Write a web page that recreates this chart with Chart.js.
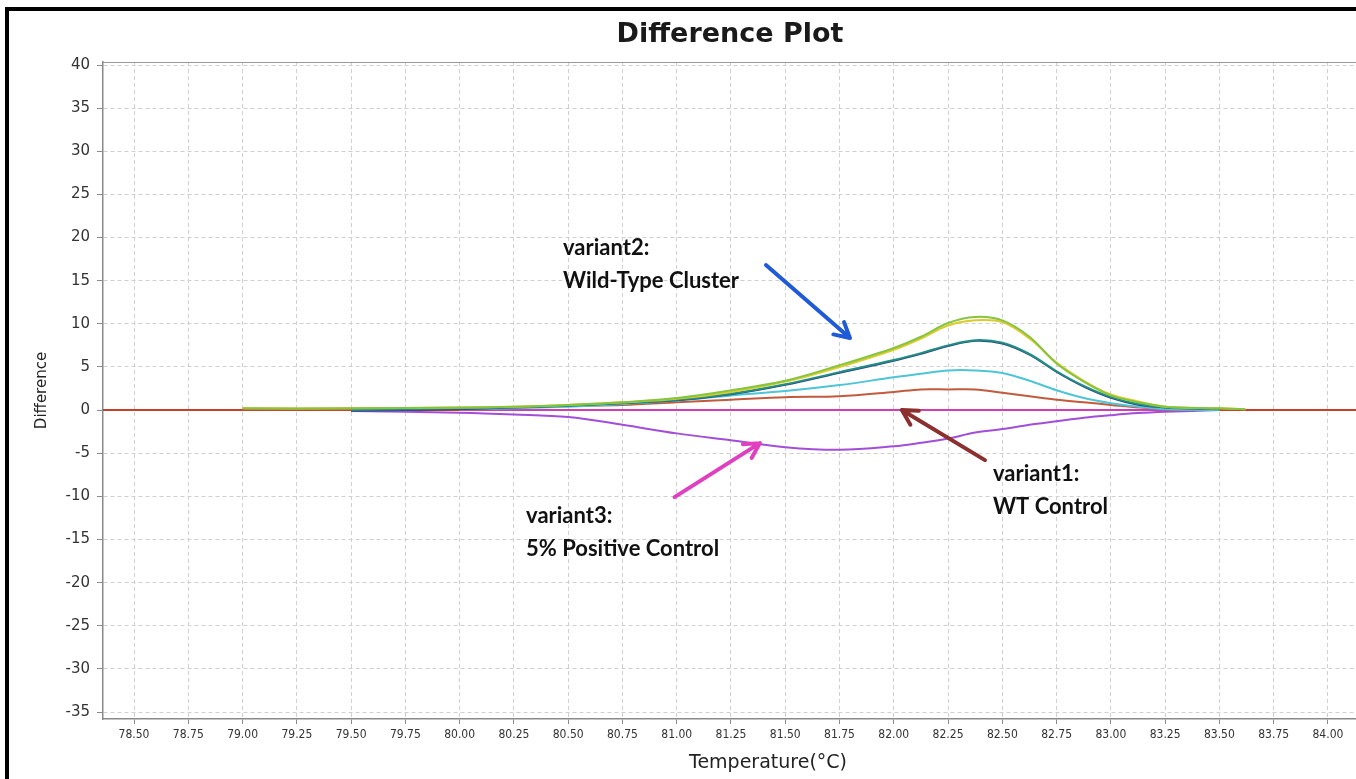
<!DOCTYPE html>
<html>
<head>
<meta charset="utf-8">
<script src="https://cdn.jsdelivr.net/npm/chart.js@4.4.1/dist/chart.umd.min.js"></script>
<style>
  html, body { margin: 0; padding: 0; background: #fff; overflow: hidden; }
  #wrap { position: relative; width: 1356px; height: 779px; overflow: hidden; }
  #frame { position: absolute; left: 5px; top: 7px; width: 1440px; height: 820px; border: 4px solid #000; }
  #diffChart { position: absolute; left: 0; top: 0; }
</style>
</head>
<body>
<div id="wrap">
  <div id="frame"></div>
  <canvas id="diffChart" width="1460" height="779"></canvas>
</div>
<script>
// temperatures shared by the melt curves
const temps = [79.0, 79.5, 80.0, 80.25, 80.5, 80.75, 81.0, 81.25, 81.5, 81.75, 82.0, 82.125,
               82.25, 82.375, 82.5, 82.625, 82.75, 82.875, 83.0, 83.125, 83.25, 83.5, 83.62];

const green  = [0.2, 0.2, 0.3, 0.4, 0.6, 0.9, 1.4, 2.3, 3.4, 5.2, 7.2, 8.5, 10.1, 10.8, 10.4, 8.5, 5.4, 3.3, 1.7, 0.9, 0.4, 0.2, 0.1];
const yellow = [0.2, 0.2, 0.3, 0.4, 0.6, 0.9, 1.3, 2.1, 3.3, 5.0, 7.0, 8.3, 9.8, 10.4, 10.2, 8.3, 5.5, 3.4, 1.8, 1.0, 0.4, 0.2, 0.1];
const teal   = [null, 0.0, 0.2, 0.3, 0.5, 0.8, 1.2, 1.9, 3.0, 4.4, 5.8, 6.6, 7.5, 8.1, 7.8, 6.5, 4.5, 2.8, 1.5, 0.7, 0.3, 0.1, null];
const navy   = [null, -0.1, 0.1, 0.3, 0.5, 0.8, 1.1, 1.8, 2.9, 4.3, 5.7, 6.5, 7.4, 8.0, 7.7, 6.4, 4.4, 2.7, 1.4, 0.6, 0.3, 0.1, null];
const cyan   = [null, null, 0.1, 0.2, 0.4, 0.7, 1.1, 1.7, 2.2, 2.9, 3.8, 4.2, 4.6, 4.6, 4.3, 3.4, 2.3, 1.4, 0.8, 0.4, 0.1, 0.0, null];
const brown  = [0.1, 0.1, 0.2, 0.3, 0.5, 0.6, 0.9, 1.2, 1.5, 1.6, 2.1, 2.4, 2.4, 2.4, 2.0, 1.6, 1.2, 0.9, 0.6, 0.3, 0.1, 0.0, null];
const purple = [null, -0.1, -0.3, -0.5, -0.8, -1.7, -2.7, -3.5, -4.3, -4.6, -4.2, -3.8, -3.3, -2.6, -2.2, -1.7, -1.3, -0.9, -0.6, -0.35, -0.2, 0.0, null];
const magenta = [null, null, 0, 0, 0, 0, 0, 0, 0, 0, 0, 0, 0, 0, 0, 0, 0, 0, 0, 0, 0, null, null];

// WT control baseline runs across the whole plot
const baseTemps = [78.3, 84.6];
const baseVals = [0, 0];

const xTicks = [78.5, 78.75, 79.0, 79.25, 79.5, 79.75, 80.0, 80.25, 80.5, 80.75, 81.0, 81.25,
                81.5, 81.75, 82.0, 82.25, 82.5, 82.75, 83.0, 83.25, 83.5, 83.75, 84.0];
const yTicks = [-35, -30, -25, -20, -15, -10, -5, 0, 5, 10, 15, 20, 25, 30, 35, 40];

const notes = [
    { lines: ['variant2:', 'Wild-Type Cluster'], x: 80.476, y: 18.75 },
    { lines: ['variant1:', 'WT Control'], x: 82.457, y: -7.45 },
    { lines: ['variant3:', '5% Positive Control'], x: 80.306, y: -12.3 }
];
const arrows = [
    { from: [81.411, 16.81], to: [81.798, 8.35], color: '#1f5bd8' },
    { from: [82.42, -5.8], to: [82.037, 0.0], color: '#8b2f2f' },
    { from: [80.99, -10.09], to: [81.383, -3.83], color: '#e03fbf' }
];

function pts(xs, ys) {
    return xs.map((x, i) => ({ x: x, y: ys[i] }));
}

function line(label, ys, color, width) {
    return {
        label: label,
        data: pts(temps, ys),
        borderColor: color,
        borderWidth: width || 2,
        pointRadius: 0,
        tension: 0.35,
        spanGaps: false
    };
}

const frameAndNotes = {
    id: 'frameAndNotes',
    afterDatasetsDraw(chart) {
        const ctx = chart.ctx;
        const xs = chart.scales.x, ys = chart.scales.y;
        const area = chart.chartArea;
        ctx.save();
        // top edge of the plot box
        ctx.strokeStyle = '#9a9a9a';
        ctx.lineWidth = 1;
        ctx.beginPath();
        ctx.moveTo(area.left, area.top + 0.5);
        ctx.lineTo(area.right, area.top + 0.5);
        ctx.stroke();

        arrows.forEach(a => {
            const x1 = xs.getPixelForValue(a.from[0]), y1 = ys.getPixelForValue(a.from[1]);
            const x2 = xs.getPixelForValue(a.to[0]), y2 = ys.getPixelForValue(a.to[1]);
            const ang = Math.atan2(y2 - y1, x2 - x1);
            ctx.strokeStyle = a.color;
            ctx.lineWidth = 4;
            ctx.lineCap = 'round';
            ctx.lineJoin = 'round';
            ctx.beginPath();
            ctx.moveTo(x1, y1);
            ctx.lineTo(x2, y2);
            ctx.moveTo(x2 - 17 * Math.cos(ang - 0.5), y2 - 17 * Math.sin(ang - 0.5));
            ctx.lineTo(x2, y2);
            ctx.lineTo(x2 - 17 * Math.cos(ang + 0.5), y2 - 17 * Math.sin(ang + 0.5));
            ctx.stroke();
        });

        ctx.fillStyle = '#111';
        ctx.font = 'bold 22px Lato';
        ctx.textAlign = 'left';
        ctx.textBaseline = 'middle';
        notes.forEach(n => {
            const x = xs.getPixelForValue(n.x), y = ys.getPixelForValue(n.y);
            n.lines.forEach((t, i) => ctx.fillText(t, x, y + i * 33));
        });
        ctx.restore();
    }
};

const ctx = document.getElementById('diffChart').getContext('2d');
const chart = new Chart(ctx, {
    type: 'line',
    data: {
        datasets: [
            line('green', green, '#86c440'),
            line('yellow', yellow, '#dccb2a'),
            line('teal', teal, '#1f8f80'),
            line('navy', navy, '#2b3f8f', 1.5),
            line('cyan', cyan, '#4ec4d6'),
            line('brown', brown, '#c25a3c'),
            line('purple', purple, '#a24ed6'),
            line('magenta', magenta, '#d23db4'),
            {
                label: 'baseline',
                data: pts(baseTemps, baseVals),
                borderColor: '#c4402a',
                borderWidth: 2,
                pointRadius: 0
            }
        ]
    },
    options: {
        responsive: false,
        animation: false,
        layout: { padding: 0 },
        plugins: {
            legend: { display: false },
            tooltip: { enabled: false },
            title: {
                display: true,
                text: 'Difference Plot',
                color: '#1a1a1a',
                font: { family: 'DejaVu Sans', size: 27, weight: 'bold', lineHeight: 1.2 },
                padding: { top: 19, bottom: 10.6 }
            }
        },
        scales: {
            x: {
                type: 'linear',
                min: 78.357,
                max: 84.484,
                afterBuildTicks: axis => { axis.ticks = xTicks.map(v => ({ value: v })); },
                afterFit: axis => { axis.height = 60; },
                ticks: {
                    color: '#333',
                    font: { family: 'DejaVu Sans Condensed', size: 12 },
                    padding: 4,
                    maxRotation: 0,
                    autoSkip: false,
                    callback: v => v.toFixed(2)
                },
                grid: { color: '#d0d0d0', tickColor: '#8a8a8a', tickLength: 5, tickBorderDash: [] },
                border: { color: '#8a8a8a', width: 1.5, dash: [4, 3] },
                title: {
                    display: true,
                    text: 'Temperature(°C)',
                    color: '#222',
                    font: { family: 'DejaVu Sans', size: 19 },
                    padding: { top: 2, bottom: 5 }
                }
            },
            y: {
                min: -35.81,
                max: 40.35,
                afterBuildTicks: axis => { axis.ticks = yTicks.map(v => ({ value: v })); },
                afterFit: axis => { axis.width = 103; },
                ticks: {
                    color: '#333',
                    font: { family: 'DejaVu Sans', size: 15 },
                    padding: 7
                },
                grid: { color: '#d0d0d0', tickColor: '#8a8a8a', tickLength: 6, tickBorderDash: [] },
                border: { color: '#8a8a8a', width: 1.5, dash: [4, 3] },
                title: {
                    display: true,
                    text: 'Difference',
                    color: '#222',
                    font: { family: 'DejaVu Sans', size: 15 },
                    padding: { top: 33, bottom: 0 }
                }
            },
            // empty right-hand strip so the plot ends where the original did
            yRight: {
                position: 'right',
                display: true,
                min: -35.81,
                max: 40.35,
                afterFit: axis => { axis.width = 27; },
                ticks: { display: false },
                grid: { display: false },
                border: { display: false }
            }
        }
    },
    plugins: [frameAndNotes]
});
</script>
</body>
</html>
